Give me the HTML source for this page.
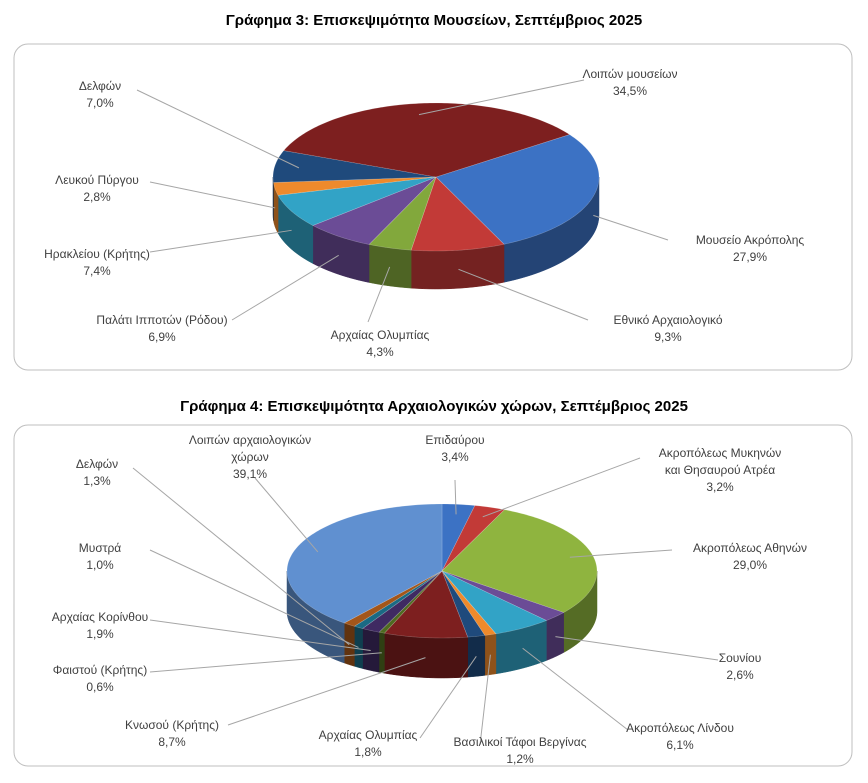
<!DOCTYPE html>
<html><head><meta charset="utf-8">
<style>
body{margin:0;background:#fff;width:868px;height:778px;overflow:hidden;font-family:"Liberation Sans",sans-serif}
svg text{font-family:"Liberation Sans","DejaVu Sans",sans-serif}
</style></head>
<body>
<svg id="svg" width="868" height="778">
<text x="434" y="25" text-anchor="middle" font-size="15" font-weight="bold" fill="#000">Γράφημα 3: Επισκεψιμότητα Μουσείων, Σεπτέμβριος 2025</text>
<rect x="14" y="44" width="838" height="326" rx="14" fill="#fff" stroke="#bfbfbf"/>
<text x="434" y="411" text-anchor="middle" font-size="15" font-weight="bold" fill="#000">Γράφημα 4: Επισκεψιμότητα Αρχαιολογικών χώρων, Σεπτέμβριος 2025</text>
<rect x="14" y="425" width="838" height="341" rx="14" fill="#fff" stroke="#bfbfbf"/>
<g id="c3"></g>
<g id="c4"></g>
</svg>
<script>
const cats3 = ["Μουσείο Ακρόπολης","Εθνικό Αρχαιολογικό","Αρχαίας Ολυμπίας","Παλάτι Ιπποτών (Ρόδου)","Ηρακλείου (Κρήτης)","Λευκού Πύργου","Δελφών","Λοιπών μουσείων"];
const vals3 = [27.9,9.3,4.3,6.9,7.4,2.8,7.0,34.5];
const cats4 = ["Επιδαύρου","Ακροπόλεως Μυκηνών|και Θησαυρού Ατρέα","Ακροπόλεως Αθηνών","Σουνίου","Ακροπόλεως Λίνδου","Βασιλικοί Τάφοι Βεργίνας","Αρχαίας Ολυμπίας","Κνωσού (Κρήτης)","Φαιστού (Κρήτης)","Αρχαίας Κορίνθου","Μυστρά","Δελφών","Λοιπών αρχαιολογικών|χώρων"];
const vals4 = [3.4,3.2,29.0,2.6,6.1,1.2,1.8,8.7,0.6,1.9,1.0,1.3,39.1];

const NS="http://www.w3.org/2000/svg";
const colors3=["#3c72c4","#c23a37","#82a83c","#6b4c96","#32a3c6","#ee8a2c","#1f4a7c","#7d1f1f"];
const colors4=["#3c72c4","#c23a37","#8fb43f","#6b4c96","#32a3c6","#ee8a2c","#1f4a7c","#7d1f1f","#4f6a20","#3f2a62","#1a6a84","#a3561a","#6090d0"];
function shade(hex,f){let n=parseInt(hex.slice(1),16);let r=(n>>16)*f,g=((n>>8)&255)*f,b=(n&255)*f;return `rgb(${r|0},${g|0},${b|0})`;}
function el(tag,attrs,parent){const e=document.createElementNS(NS,tag);for(const k in attrs)e.setAttribute(k,attrs[k]);parent.appendChild(e);return e;}

function drawPie(g,cats,vals,colors,geo,labels,prefix){
  const {cx,cy,rx,ry,d,start}=geo;
  const tot=vals.reduce((a,b)=>a+b,0);
  const P=(a,dy)=>[cx+rx*Math.sin(a*Math.PI/180),cy-ry*Math.cos(a*Math.PI/180)+(dy||0)];
  let a=start;const sl=[];
  vals.forEach(v=>{const s=v/tot*360;sl.push([a,a+s]);a+=s;});
  sl.forEach((r,i)=>{
    const ranges=[[90,270],[450,630]];
    for(let k=0;k<2;k++){
      const [f1,f2]=ranges[k];
      const lo=Math.max(r[0],f1),hi=Math.min(r[1],f2);
      if(hi<=lo)continue;
      let pts=[];
      for(let t=lo;t<=hi+0.001;t+=Math.max((hi-lo)/30,0.2))pts.push(P(Math.min(t,hi)));
      pts.push(P(hi));
      let bot=pts.slice().reverse().map(p=>[p[0],p[1]+d]);
      const path=el("path",{d:"M"+pts.concat(bot).map(p=>p.join(",")).join("L")+"Z",fill:shade(colors[i],0.6),stroke:shade(colors[i],0.6),"stroke-width":0.5},g);
      
      
    }
  });
  sl.forEach((r,i)=>{
    let pts=[[cx,cy]];
    for(let t=r[0];t<=r[1];t+=1)pts.push(P(t));
    pts.push(P(r[1]));
    const path=el("path",{d:"M"+pts.map(p=>p.join(",")).join("L")+"Z",fill:colors[i],stroke:"rgba(255,255,255,0.25)","stroke-width":0.6},g);
    
    
  });
  sl.forEach((r,i)=>{
    const L=labels[i];const m=(r[0]+r[1])/2;
    let c=Math.cos(m*Math.PI/180);
    let p=P(m, c<0? d*0.5:0);
    if(c>=0){p=[cx+(p[0]-cx)*0.85,cy+(p[1]-cy)*0.85];}
    const ln=el("line",{x1:L[2],y1:L[3],x2:p[0],y2:p[1],stroke:"#a6a6a6","stroke-width":1},g);
    
    
    const lines=cats[i].split("|");lines.push(vals[i].toFixed(1).replace(".",",")+"%");
    lines.forEach((s,j)=>{
      const t=el("text",{x:L[0],y:L[1]+j*17,"text-anchor":"middle","font-size":12,fill:"#404040"},g);
      t.textContent=s;
      
      
    });
  });
}
const lay3=[[750,244,668,240],[668,324,588,320],[380,339,368,322],[162,324,232,320],[97,258,150,252],[97,184,150,182],[100,90,137,90],[630,78,584,80]];
const lay4=[[455,444,455,480],[720,457,640,458],[750,552,672,550],[740,662,718,660],[680,732,628,730],[520,746,480,745],[368,739,420,738],[172,729,228,725],[100,674,150,672],[100,621,150,620],[100,552,150,550],[97,468,133,468],[250,444,255,478]];
drawPie(document.getElementById("c3"),cats3,vals3,colors3,{cx:436,cy:177,rx:163,ry:74,d:38,start:55},lay3,"c3");
drawPie(document.getElementById("c4"),cats4,vals4,colors4,{cx:442,cy:571,rx:155,ry:67,d:40,start:0},lay4,"c4");
</script>
</body></html>
